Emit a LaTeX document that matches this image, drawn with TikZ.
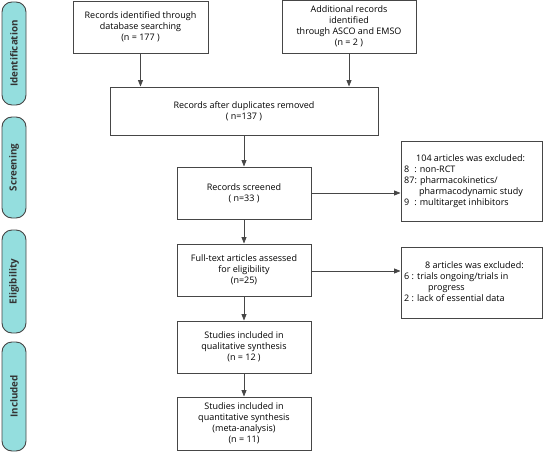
\documentclass[tikz,border=0pt]{standalone}
\usepackage{fontspec}
\setmainfont{Open Sans}
\usetikzlibrary{arrows.meta,calc}
\definecolor{edge}{RGB}{70,70,70}
\definecolor{pill}{RGB}{148,222,222}
\begin{document}
\begin{tikzpicture}[x=1pt,y=-1pt,
  box/.style={draw=edge,line width=0.9pt,fill=white,inner sep=0pt,align=center,
    font=\fontsize{9}{11}\selectfont},
  txt/.style={inner sep=0pt,align=left,anchor=north west,font=\fontsize{9}{11}\selectfont},
  phase/.style={draw=edge,line width=0.9pt,fill=pill,rounded corners=10pt,minimum width=24pt,
    inner sep=0pt,font=\fontsize{9.8}{10}\selectfont\bfseries,text=black!80},
  arr/.style={draw=edge,line width=0.9pt,-{Triangle[length=6.5pt,width=5pt]}}]
\useasboundingbox (0,0) rectangle (543,452);

% phase labels
\node[phase,minimum height=103pt] (p1) at (14,53.5) {\rotatebox{90}{Identification}};
\node[phase,minimum height=101pt] (p2) at (14,167.5) {\rotatebox{90}{Screening}};
\node[phase,minimum height=103pt] (p3) at (14,281.5) {\rotatebox{90}{Eligibility}};
\node[phase,minimum height=109pt] (p4) at (14,396.5) {\rotatebox{90}{Included}};

% main boxes
\node[box,minimum width=135pt,minimum height=52pt] (A) at (140.5,27)
  {Records identified through\\database searching\\(n = 177 )};
\node[box,minimum width=134pt,minimum height=53pt] (B) at (349,26.5)
  {Additional records\\identified\\through ASCO and EMSO\\(n = 2 )};
\node[box,minimum width=268pt,minimum height=48pt] (C) at (244,111)
  {Records after duplicates removed\\( n=137 )};
\node[box,minimum width=134pt,minimum height=52pt] (D) at (244,193)
  {Records screened\\( n=33 )};
\node[box,minimum width=134pt,minimum height=52pt] (F) at (244,270)
  {Full-text articles assessed\\for eligibility\\(n=25)};
\node[box,minimum width=134pt,minimum height=52pt] (H) at (244,347)
  {Studies included in\\qualitative synthesis\\(n = 12 )};
\node[box,minimum width=134pt,minimum height=53pt] (I) at (244,423.5)
  {Studies included in\\quantitative synthesis\\(meta-analysis)\\(n = 11)};

% exclusion boxes
\node[box,minimum width=141pt,minimum height=80pt] (E) at (471.5,181) {};
\node[txt] (Et) at (404,154)
  {\hspace{12pt}104 articles was excluded:\\
   8\hspace{5pt}: non-RCT\\
   87: pharmacokinetics/\\
   \hspace{15pt}pharmacodynamic study\\
   9\hspace{5pt}: multitarget inhibitors};
\node[box,minimum width=141pt,minimum height=71pt] (G) at (471.5,282.5) {};
\node[txt] (Gt) at (404,261)
  {\hspace{21pt}8 articles was excluded:\\
   6 : trials ongoing/trials in\\
   \hspace{24pt}progress\\
   2 : lack of essential data};

% connectors
\draw[arr] (A.south) -- (A.south |- C.north);
\draw[arr] (B.south) -- (B.south |- C.north);
\draw[arr] (C.south) -- (D.north);
\draw[arr] (D.east) -- (D.east -| E.west);
\draw[arr] (D.south) -- (F.north);
\draw[arr] ($(F.east)+(0,1)$) -- ($(F.east -| G.west)+(0,1)$);
\draw[arr] (F.south) -- (H.north);
\draw[arr] (H.south) -- (I.north);
\end{tikzpicture}
\end{document}
